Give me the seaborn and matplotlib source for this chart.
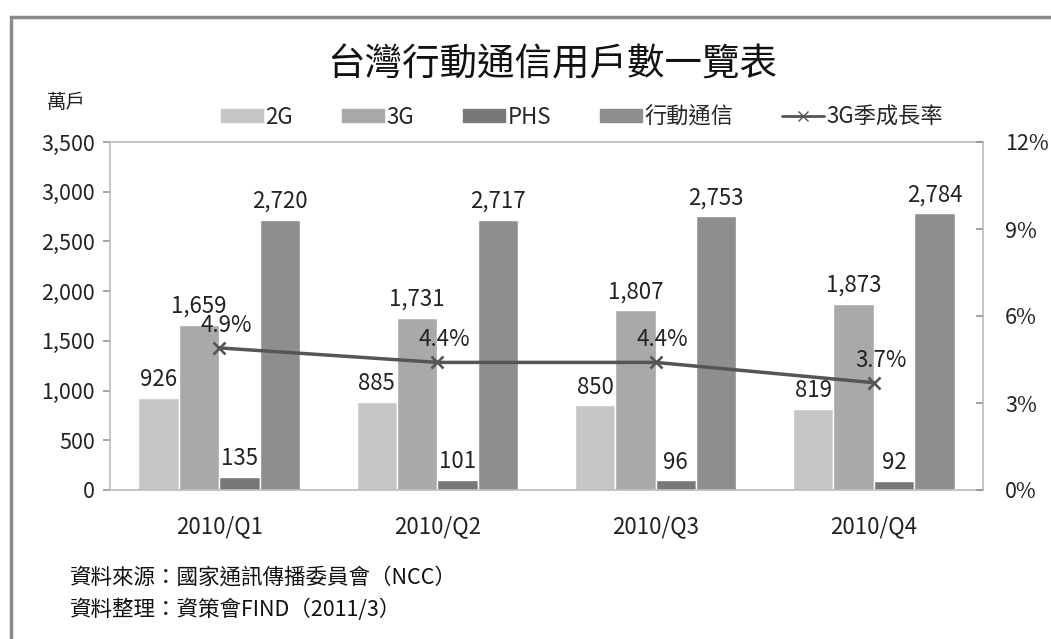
import matplotlib
matplotlib.use("Agg")
import matplotlib.pyplot as plt
import matplotlib.patches as mpatches
from matplotlib.lines import Line2D
import seaborn as sns
import pandas as pd

# data
quarters = ["2010/Q1", "2010/Q2", "2010/Q3", "2010/Q4"]
series = ["2G", "3G", "PHS", "行動通信"]
users_2g = [926, 885, 850, 819]
users_3g = [1659, 1731, 1807, 1873]
users_phs = [135, 101, 96, 92]
users_mobile = [2720, 2717, 2753, 2784]
growth_3g = [4.9, 4.4, 4.4, 3.7]

colors = ["#c6c6c6", "#a9a9a9", "#787878", "#8e8e8e"]
line_color = "#555555"

sns.set_theme(style="white")
plt.rcParams['font.family'] = ['Noto Sans CJK TC', 'DejaVu Sans']

dfp = pd.DataFrame({
    "quarter": quarters * 4,
    "series": [s for s in series for _ in quarters],
    "value": users_2g + users_3g + users_phs + users_mobile,
})

fig = plt.figure(figsize=[10.51, 6.39], dpi=100, facecolor="white")
ax = fig.add_axes([110/1051, 1-490/639, 873/1051, 348/639])

sns.barplot(data=dfp, x="quarter", y="value", hue="series", hue_order=series,
            palette=colors, width=0.74, ax=ax, legend=False, saturation=1)

# value labels on top of the bars
for cont in ax.containers:
    ax.bar_label(cont, labels=[f"{v:,.0f}" for v in cont.datavalues],
                 padding=5, fontsize=16, color="#222222")

ax.set_ylim(0, 3500)
ax.set_yticks(range(0, 3501, 500))
ax.set_yticklabels([f"{v:,}" for v in range(0, 3501, 500)])
ax.set_xlim(-0.5, 3.5)
ax.set(xlabel=None, ylabel=None)
ax.tick_params(axis="y", labelsize=15.5, left=True, length=5, color="#999999",
               labelcolor="#222222", pad=6)
ax.tick_params(axis="x", labelsize=16, labelcolor="#222222", pad=12, bottom=False)
for s in ax.spines.values():
    s.set_color("#bbbbbb")
    s.set_linewidth(1.2)

# growth rate on the right axis
ax2 = ax.twinx()
grow = pd.DataFrame({"quarter": quarters, "growth": growth_3g})
sns.pointplot(data=grow, x="quarter", y="growth", ax=ax2, color=line_color,
              markers="x", markersize=8, linewidth=2.5)
ax2.set_ylim(0, 12)
ax2.set_xlim(-0.5, 3.5)
ax2.set_yticks([0, 3, 6, 9, 12])
ax2.set_yticklabels([f"{v}%" for v in [0, 3, 6, 9, 12]])
ax2.set(ylabel=None, xlabel=None)
ax2.tick_params(axis="y", labelsize=15.5, right=True, direction="in", length=5,
                color="#999999", labelcolor="#222222", pad=16)
for s in ax2.spines.values():
    s.set_visible(False)
for i, g in enumerate(growth_3g):
    ax2.annotate(f"{g}%", (i, g), xytext=(5, 8), textcoords="offset points",
                 ha="center", va="bottom", fontsize=16, color="#222222")

# title, unit, legend, notes
fig.text(552/1051, 1-65/639, "台灣行動通信用戶數一覽表", ha="center", va="center",
         fontsize=27, color="#111111")
fig.text(66/1051, 1-103/639, "萬戶", ha="center", va="center", fontsize=14,
         color="#222222")

handles = [mpatches.Patch(color=c, label=s) for c, s in zip(colors, series)]
handles.append(Line2D([0], [0], color=line_color, lw=2, marker="x",
                      markersize=7, label="3G季成長率"))
fig.legend(handles=handles, loc="center", bbox_to_anchor=(582/1051, 1-117/639),
           ncol=5, frameon=False, fontsize=16, handlelength=1.9, handleheight=0.55,
           handletextpad=0.1, columnspacing=2.2)

fig.text(70/1051, 1-578/639, "資料來源：國家通訊傳播委員會（NCC）", ha="left",
         va="center", fontsize=15.5, color="#111111")
fig.text(70/1051, 1-610/639, "資料整理：資策會FIND（2011/3）", ha="left",
         va="center", fontsize=15.5, color="#111111")

# outer frame
fig.patches.append(mpatches.Rectangle((11/1051, -0.1), 1.2, 1.1 - 17/639,
                                      transform=fig.transFigure, fill=False,
                                      edgecolor="#8a8a8a", linewidth=2.5))

plt.savefig("out.png", dpi=100, facecolor="white")
plt.close()
